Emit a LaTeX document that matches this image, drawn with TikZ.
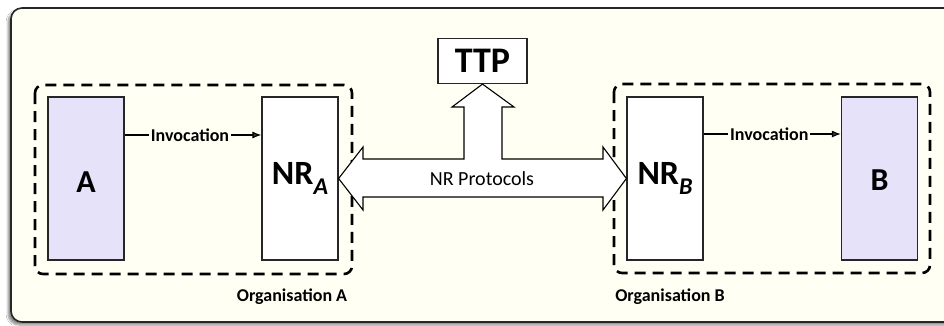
\documentclass[tikz,border=0pt]{standalone}
\usepackage{fontspec}
\setmainfont{Carlito}
\usetikzlibrary{shadows.blur,arrows.meta}
\definecolor{bgcol}{RGB}{255,255,243}
\definecolor{lav}{RGB}{230,226,250}
\tikzset{
  frame/.style={draw=black!85, line width=1.6pt, fill=bgcol, rounded corners=11pt,
    blur shadow={shadow xshift=-3pt, shadow yshift=-3pt, shadow blur steps=6, shadow opacity=45}},
  orgbox/.style={draw=black, line width=2.6pt, dash pattern=on 11pt off 7pt, rounded corners=8pt},
  entbox/.style={draw=black!85, line width=1.2pt, minimum width=76pt, minimum height=163pt, inner sep=0pt},
  appbox/.style={entbox, fill=lav},
  applabel/.style={font=\fontsize{32}{32}\selectfont\bfseries, inner sep=0pt},
  nrbox/.style={entbox, fill=white, font=\fontsize{34}{34}\selectfont\bfseries},
  ttpbox/.style={draw=black!85, line width=1.2pt, fill=white, minimum width=89pt, minimum height=45pt, inner sep=0pt, font=\fontsize{36}{36}\selectfont\bfseries},
  invarrow/.style={line width=1.1pt, -{Latex[length=9pt,width=7pt]}},
  invlabel/.style={fill=bgcol, inner sep=2pt, font=\fontsize{18}{18}\selectfont\bfseries},
  orglabel/.style={font=\fontsize{18}{18}\selectfont\bfseries},
  bigarrow/.style={draw=black, line width=1.1pt, fill=white, line join=miter},
  protlabel/.style={font=\fontsize{20}{20}\selectfont}
}
\newcommand{\mysubs}[1]{\raisebox{-10pt}{\fontsize{24}{24}\selectfont\bfseries\itshape #1}}
\begin{document}
\begin{tikzpicture}[x=1pt,y=-1pt]
\useasboundingbox (0,0) rectangle (944,325);
\fill[white] (0,0) rectangle (944,325);
\path[frame] (11,8) rectangle (970,322);

\draw[orgbox] (35,85) rectangle (352,274);
\draw[orgbox] (614,84) rectangle (930,273);

\node[appbox] (a) at (86,178.5) {};
\node[applabel] (alabel) at ([yshift=-4pt]a.center) {A};
\node[nrbox] (nra) at (300,178.5) {NR\mysubs{A}};
\node[nrbox] (nrb) at (665,178.5) {NR\mysubs{B}};
\node[appbox] (b) at (879.5,178.5) {};
\node[applabel] (blabel) at ([yshift=-2pt]b.center) {B};
\node[ttpbox] (ttp) at (482.5,61) {TTP};

\draw[invarrow] (a.east |- 0,135) -- node[invlabel, xshift=-3pt] {Invocation} (nra.west |- 0,135);
\draw[invarrow] (nrb.east |- 0,134) -- node[invlabel, xshift=-3pt] {Invocation} (b.west |- 0,134);

\draw[bigarrow] (nra.east) -- (363,147) -- (363,159) -- (464,159) -- (464,107) -- (452,107)
  -- (ttp.south) -- (514,107) -- (502,107) -- (502,159) -- (603,159) -- (603,147)
  -- (nrb.west) -- (603,210) -- (603,197) -- (363,197) -- (363,210) -- cycle;
\node[protlabel] (prot) at (482,179) {NR Protocols};

\node[orglabel] (orga) at (292,297) {Organisation A};
\node[orglabel] (orgb) at (670,297) {Organisation B};
\end{tikzpicture}
\end{document}
